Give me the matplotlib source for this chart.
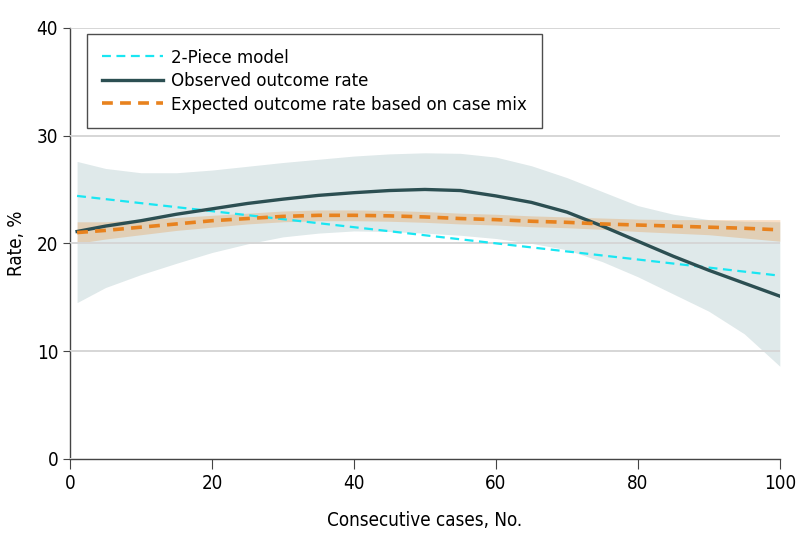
import numpy as np
import matplotlib
matplotlib.use("Agg")
import matplotlib.pyplot as plt

plt.rcParams['font.family'] = ['DejaVu Sans']
plt.rcParams['font.stretch'] = 'condensed'

# Datos
cases = [1, 5, 10, 15, 20, 25, 30, 35, 40, 45, 50, 55, 60, 65, 70, 75, 80, 85, 90, 95, 100]

observed = [21.1, 21.6, 22.1, 22.7, 23.2, 23.7, 24.1, 24.45, 24.7, 24.9, 25.0,
            24.9, 24.4, 23.8, 22.9, 21.6, 20.2, 18.8, 17.5, 16.3, 15.1]
observed_hi = [27.6, 26.95, 26.55, 26.55, 26.8, 27.15, 27.5, 27.8, 28.1, 28.3, 28.4,
               28.35, 28.0, 27.2, 26.1, 24.8, 23.5, 22.7, 22.2, 22.05, 22.0]
observed_lo = [14.5, 15.9, 17.1, 18.15, 19.15, 19.95, 20.6, 20.95, 21.15, 21.1, 20.95,
               20.75, 20.45, 20.0, 19.4, 18.3, 16.9, 15.3, 13.7, 11.6, 8.6]

expected = [21.0, 21.2, 21.5, 21.8, 22.1, 22.3, 22.5, 22.6, 22.6, 22.55, 22.45,
            22.3, 22.2, 22.05, 21.95, 21.8, 21.7, 21.6, 21.5, 21.4, 21.25]
expected_hi = [22.0, 22.0, 22.2, 22.4, 22.6, 22.8, 23.0, 23.1, 23.1, 23.05, 22.95,
               22.8, 22.7, 22.55, 22.45, 22.35, 22.25, 22.2, 22.2, 22.2, 22.2]
expected_lo = [20.0, 20.4, 20.8, 21.2, 21.5, 21.8, 22.0, 22.1, 22.1, 22.05, 21.95,
               21.8, 21.7, 21.55, 21.45, 21.3, 21.1, 20.95, 20.8, 20.5, 20.2]

piece_x = [1, 40, 100]
piece_y = [24.4, 21.5, 17.0]

x_ticks = [0, 20, 40, 60, 80, 100]
y_ticks = [0, 10, 20, 30, 40]

# Colores
DARK = '#2c4f52'
BAND = '#2a6c73'
CYAN = '#19e6f2'
ORANGE = '#e8821e'

fig = plt.figure(figsize=(7.98, 5.45), dpi=100)
ax = fig.add_axes([0.0877, 0.158, 0.8895, 0.791])

ax.fill_between(cases, observed_lo, observed_hi, color=BAND, alpha=0.15,
                linewidth=0, zorder=1)
ax.fill_between(cases, expected_lo, expected_hi, color=ORANGE, alpha=0.25,
                linewidth=0, zorder=2)

ax.plot(piece_x, piece_y, color=CYAN, linestyle=(0, (4, 2.5)), linewidth=1.6,
        label='2-Piece model', zorder=4)
ax.plot(cases, observed, color=DARK, linewidth=2.4,
        label='Observed outcome rate', zorder=4)
ax.plot(cases, expected, color=ORANGE, linestyle=(0, (3, 2)), linewidth=2.6,
        label='Expected outcome rate based on case mix', zorder=5)

ax.set_xlim(0, 100)
ax.set_ylim(0, 40)
ax.set_xticks(x_ticks)
ax.set_yticks(y_ticks)
ax.grid(axis='y', color='#d6d6d6', linewidth=1.4, zorder=3)
ax.set_axisbelow(False)

for s in ['top', 'right']:
    ax.spines[s].set_visible(False)
for s in ['left', 'bottom']:
    ax.spines[s].set_color('#444444')
    ax.spines[s].set_linewidth(1.0)
ax.tick_params(axis='both', direction='out', colors='#444444', labelcolor='black',
               labelsize=13.5)
ax.tick_params(axis='x', length=7, pad=4)
ax.tick_params(axis='y', length=5)

ax.set_xlabel('Consecutive cases, No.', fontsize=13.5, labelpad=13)
ax.set_ylabel('Rate, %', fontsize=13.5, labelpad=8)

leg = ax.legend(loc='upper left', bbox_to_anchor=(0.024, 0.986), borderaxespad=0,
                fontsize=13.3, frameon=True, fancybox=False, handlelength=3.3,
                borderpad=0.8, labelspacing=0.3, handletextpad=0.45)
leg.get_frame().set_edgecolor('#222222')
leg.get_frame().set_linewidth(1.0)
leg.set_zorder(10)

plt.savefig('out.png', dpi=100)
